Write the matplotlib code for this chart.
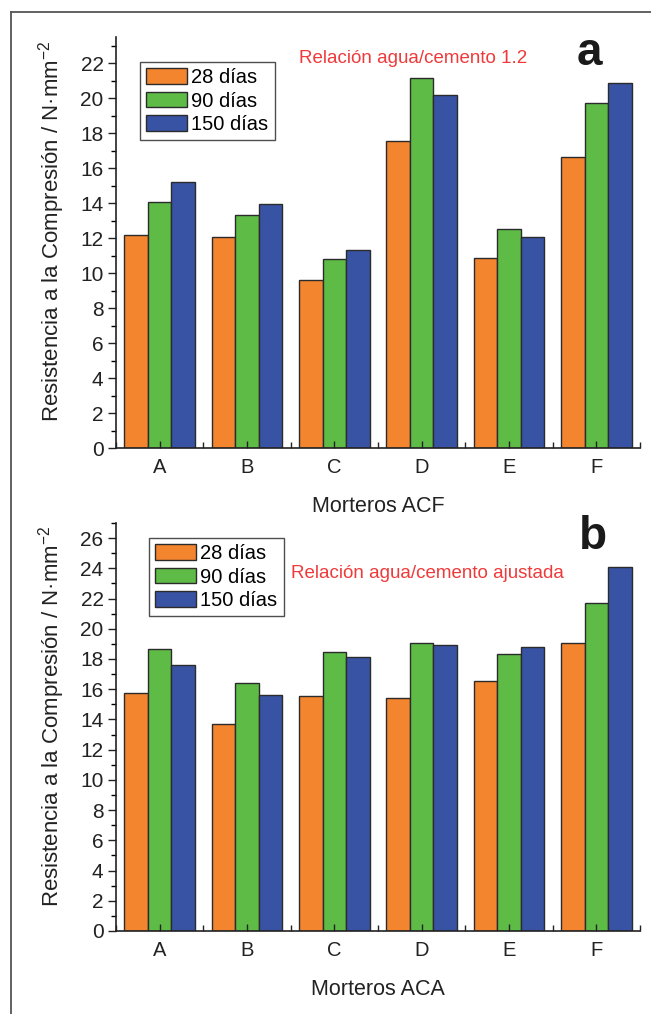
import matplotlib
matplotlib.use("Agg")
import matplotlib.pyplot as plt
import numpy as np
from matplotlib.lines import Line2D
from matplotlib.ticker import MultipleLocator

plt.rcParams['font.family'] = ['Liberation Sans', 'DejaVu Sans']
plt.rcParams['mathtext.fontset'] = 'custom'
plt.rcParams['mathtext.rm'] = 'Liberation Sans'

categories = ["A", "B", "C", "D", "E", "F"]
series = ["28 días", "90 días", "150 días"]

acf_28 = [12.17, 12.06, 9.59, 17.56, 10.89, 16.66]
acf_90 = [14.08, 13.30, 10.83, 21.13, 12.52, 19.73]
acf_150 = [15.23, 13.95, 11.31, 20.17, 12.08, 20.89]

aca_28 = [15.78, 13.69, 15.54, 15.39, 16.55, 19.07]
aca_90 = [18.66, 16.42, 18.44, 19.07, 18.33, 21.72]
aca_150 = [17.58, 15.63, 18.11, 18.94, 18.79, 24.09]

colors = ["#F3852F", "#5DBB46", "#3853A4"]
edge = "#2b2b2b"
txt = "#222222"

fig = plt.figure(figsize=(6.51, 10.14), dpi=100)

# figure frame
fig.add_artist(Line2D([11/651, 11/651], [0, 1-12/1014], color="#555555", lw=1.3, transform=fig.transFigure))
fig.add_artist(Line2D([11/651, 1], [1-12/1014, 1-12/1014], color="#555555", lw=1.3, transform=fig.transFigure))

def panel(rect, data, ymax, xlabel, letter, letter_xy, note, note_xy, leg_anchor):
    ax = fig.add_axes(rect)
    x = np.arange(len(categories))
    w = 0.27
    for i, (vals, c, lab) in enumerate(zip(data, colors, series)):
        ax.bar(x + (i - 1) * w, vals, width=w, color=c, edgecolor=edge, linewidth=1.0, label=lab)
    ax.set_xlim(-0.5, 5.5)
    ax.set_ylim(0, ymax)
    ax.spines['top'].set_visible(False)
    ax.spines['right'].set_visible(False)
    for s in ['left', 'bottom']:
        ax.spines[s].set_linewidth(1.2)
        ax.spines[s].set_color(txt)
    ax.set_xticks(x)
    ax.set_xticklabels(categories)
    ax.set_xticks(np.arange(-0.5, 6.0, 1.0), minor=True)
    ax.yaxis.set_major_locator(MultipleLocator(2))
    ax.yaxis.set_minor_locator(MultipleLocator(1))
    ax.tick_params(axis='x', which='both', direction='in', length=5, width=1.0, labelsize=14.5, pad=7, colors=txt)
    ax.tick_params(axis='x', which='minor', length=4)
    ax.tick_params(axis='y', which='major', direction='out', length=6, width=1.0, labelsize=15, pad=3, colors=txt)
    ax.tick_params(axis='y', which='minor', direction='out', length=3.5, width=1.0)
    ax.set_xlabel(xlabel, fontsize=15.5, labelpad=14, color=txt)
    ax.set_ylabel("Resistencia a la Compresión / N·mm$^{\\mathregular{-2}}$", fontsize=16, color=txt)
    h_px = rect[3] * 1014
    ax.yaxis.set_label_coords(-0.094, 0.5 + 11 / h_px)
    leg = ax.legend(loc='upper left', bbox_to_anchor=leg_anchor, fontsize=14.5, frameon=True, fancybox=False,
                    edgecolor=txt, handlelength=2.05, handleheight=0.8, handletextpad=0.2,
                    borderpad=0.3, labelspacing=0.22, borderaxespad=0)
    leg.get_frame().set_linewidth(1.0)
    for h in leg.legend_handles:
        h.set_edgecolor(edge)
    ax.text(letter_xy[0], letter_xy[1], letter, transform=ax.transAxes, fontsize=33, fontweight='bold',
            ha='center', va='center', color="#1a1a1a")
    ax.text(note_xy[0], note_xy[1], note, transform=ax.transAxes, fontsize=13.5, color="#EE3A3A",
            ha='center', va='center')
    return ax

panel([116/651, 1-448/1014, 524/651, 411/1014], [acf_28, acf_90, acf_150], 23.5,
      "Morteros ACF", "a", (0.903, 0.962), "Relación agua/cemento 1.2", (0.567, 0.948), (0.046, 0.939))
panel([116/651, 1-931/1014, 524/651, 408/1014], [aca_28, aca_90, aca_150], 27.0,
      "Morteros ACA", "b", (0.910, 0.965), "Relación agua/cemento ajustada", (0.594, 0.875), (0.063, 0.963))

fig.savefig("out.png", dpi=100)
